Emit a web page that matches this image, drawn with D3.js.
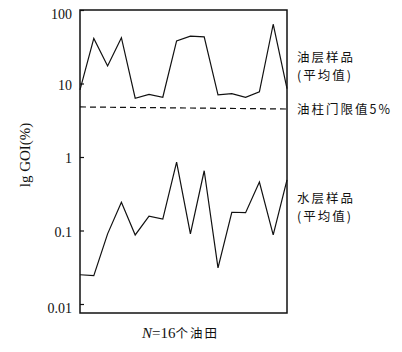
<!DOCTYPE html>
<html>
<head>
<meta charset="utf-8">
<script src="https://cdn.jsdelivr.net/npm/d3@7"></script>
<style>
  body { margin: 0; background: #fff; }
  svg { display: block; }
  .tick text { font-family: "Liberation Serif", serif; font-size: 14px; fill: #111; }
  .cjk { font-family: "Noto Sans CJK SC", sans-serif; font-size: 12.5px; fill: #111; letter-spacing: 2px; }
</style>
</head>
<body>
<div id="chart"></div>
<script>
// 16 个油田
var fields = d3.range(1, 17);
// 油层样品 (平均值), %
var oilValues = [8.2, 41, 17.3, 42, 6.3, 7.1, 6.5, 38, 44, 43, 7.0, 7.3, 6.5, 7.7, 64, 8.5];
// 水层样品 (平均值), %
var waterValues = [0.025, 0.0243, 0.09, 0.242, 0.087, 0.157, 0.143, 0.85, 0.09, 0.65, 0.031, 0.177, 0.175, 0.457, 0.087, 0.487];
// 油柱门限值 (左端, 右端)
var threshold = [4.8, 4.5];
var yTicks = [0.01, 0.1, 1, 10, 100];
var yTickLabels = ["0.01", "0.1", "1", "10", "100"];

var width = 402, height = 352;
var margin = { top: 10, right: 115, bottom: 39, left: 80 };

var svg = d3.select("#chart").append("svg")
  .attr("width", width)
  .attr("height", height);

var x = d3.scalePoint()
  .domain(fields)
  .range([margin.left, width - margin.right]);

// 底边略低于 0.01
var y = d3.scaleLog()
  .domain([Math.pow(10, -2 - 9 / 73.5), 100])
  .range([height - margin.bottom, margin.top]);

// 坐标轴 (刻度朝内)
var yAxis = d3.axisLeft(y)
  .tickValues(yTicks)
  .tickFormat(function(d, i) { return yTickLabels[i]; })
  .tickSizeInner(-4)
  .tickSizeOuter(0)
  .tickPadding(8);

var gy = svg.append("g")
  .attr("transform", "translate(" + margin.left + ",0)")
  .call(yAxis);
gy.select(".domain").remove();
gy.selectAll(".tick line").attr("stroke", "#111").attr("stroke-width", 1.2);
gy.selectAll(".tick text").attr("dy", function(d) {
  return (d === 100 || d === 0.01) ? "0.6em" : "0.4em";
});

// 边框
svg.append("rect")
  .attr("x", margin.left)
  .attr("y", margin.top)
  .attr("width", width - margin.right - margin.left)
  .attr("height", height - margin.bottom - margin.top)
  .attr("fill", "none")
  .attr("stroke", "#111")
  .attr("stroke-width", 1.5);

var line = d3.line()
  .x(function(d, i) { return x(fields[i]); })
  .y(function(d) { return y(d); });

svg.append("path")
  .datum(oilValues)
  .attr("d", line)
  .attr("fill", "none")
  .attr("stroke", "#111")
  .attr("stroke-width", 1.2);

svg.append("path")
  .datum(waterValues)
  .attr("d", line)
  .attr("fill", "none")
  .attr("stroke", "#111")
  .attr("stroke-width", 1.2);

// 门限值虚线
svg.append("line")
  .attr("x1", x(fields[0]))
  .attr("x2", x(fields[fields.length - 1]))
  .attr("y1", y(threshold[0]))
  .attr("y2", y(threshold[1]))
  .attr("stroke", "#111")
  .attr("stroke-width", 1.2)
  .attr("stroke-dasharray", "6,4");

// 右侧标注
var labels = [
  { text: "油层样品", y: 62 },
  { text: "(平均值)", y: 80 },
  { text: "油柱门限值5%", y: 114 },
  { text: "水层样品", y: 203 },
  { text: "(平均值)", y: 221 }
];
svg.selectAll(".side-label")
  .data(labels)
  .enter()
  .append("text")
  .attr("class", "cjk side-label")
  .attr("x", 297)
  .attr("y", function(d) { return d.y; })
  .text(function(d) { return d.text; });

// y 轴标题
svg.append("text")
  .attr("transform", "translate(30,155) rotate(-90)")
  .attr("text-anchor", "middle")
  .attr("font-family", "Liberation Serif, serif")
  .attr("font-size", 15)
  .attr("fill", "#111")
  .text("lg GOI(%)");

// x 轴标题
var xt = svg.append("text")
  .attr("x", (margin.left + width - margin.right) / 2 - 3)
  .attr("y", 338)
  .attr("text-anchor", "middle")
  .attr("fill", "#111");
xt.append("tspan")
  .attr("font-family", "Liberation Serif, serif")
  .attr("font-style", "italic")
  .attr("font-size", 15)
  .text("N");
xt.append("tspan")
  .attr("font-family", "Liberation Serif, serif")
  .attr("font-size", 15)
  .text("=16");
xt.append("tspan")
  .attr("class", "cjk")
  .text("个油田");
</script>
</body>
</html>
